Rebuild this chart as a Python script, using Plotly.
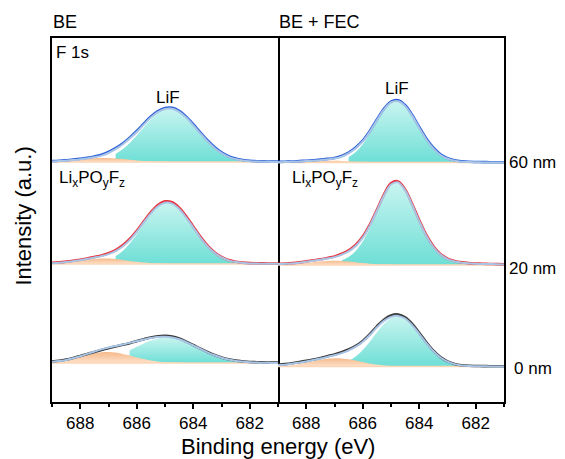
import plotly.graph_objects as go

# ---------------------------------------------------------------- data
# binding energy grid (eV), high to low
energy = [689.0, 688.75, 688.5, 688.25, 688.0, 687.75, 687.5, 687.25, 687.0,
          686.75, 686.5, 686.25, 686.0, 685.75, 685.5, 685.25, 685.0, 684.75,
          684.5, 684.25, 684.0, 683.75, 683.5, 683.25, 683.0, 682.75, 682.5,
          682.25, 682.0, 681.75, 681.5, 681.25, 681.0]

# BE electrolyte, 60 nm
be60_raw = [1.0, 1.3, 1.8, 2.5, 3.3, 4.3, 5.6, 7.3, 10.0, 13.8, 18.5, 24.4, 31.0, 38.4, 45.4, 50.8, 54.0,
            54.2, 51.2, 45.4, 37.8, 29.6, 21.8, 15.0, 9.6, 5.8, 3.4, 2.0, 1.2, 0.8, 0.6, 0.5, 0.4]
be60_fit = [0.6, 0.9, 1.3, 1.9, 2.7, 3.6, 4.8, 6.4, 9.0, 12.8, 17.5, 23.4, 30.0, 37.4, 44.4, 49.8, 53.0,
            53.2, 50.2, 44.4, 36.8, 28.6, 20.8, 14.1, 8.9, 5.2, 2.9, 1.6, 0.8, 0.4, 0.2, 0.1, 0.0]
be60_lif = [0, 0, 0, 0.1, 0.3, 0.7, 1.4, 2.6, 4.8, 8.1, 12.8, 19.1, 26.6, 34.8, 42.5, 48.8, 52.4,
            52.7, 49.7, 43.9, 36.4, 28.2, 20.5, 14.0, 8.9, 5.3, 3.0, 1.6, 0.8, 0.4, 0.2, 0.1, 0]
be60_lipof = [0.5, 0.9, 1.5, 2.0, 2.7, 3.3, 3.8, 4.0, 3.9, 3.5, 2.9, 2.3, 1.6, 1.1, 0.7, 0.4, 0.2,
              0.1, 0, 0, 0, 0, 0, 0, 0, 0, 0, 0, 0, 0, 0, 0, 0]

# BE electrolyte, 20 nm
be20_raw = [1.3, 1.7, 2.4, 3.3, 4.3, 5.5, 7.0, 8.6, 10.8, 13.9, 18.6, 25.0, 33.2, 42.6, 51.8, 59.0, 62.6,
            61.8, 56.4, 47.8, 37.6, 27.4, 18.6, 11.7, 7.0, 3.9, 2.2, 1.4, 0.9, 0.7, 0.6, 0.5, 0.5]
be20_fit = [0.8, 1.2, 1.9, 2.8, 3.8, 5.0, 6.4, 7.9, 9.9, 12.9, 17.5, 23.9, 32.2, 41.6, 50.7, 57.8, 61.3,
            60.3, 55.0, 46.5, 36.5, 26.5, 17.9, 11.2, 6.6, 3.6, 1.9, 1.1, 0.6, 0.4, 0.3, 0.3, 0.3]
be20_lif = [0, 0, 0, 0.1, 0.2, 0.4, 1.0, 2.1, 4.2, 7.7, 13.1, 20.5, 29.7, 39.9, 49.6, 57.0, 60.8,
            59.9, 54.7, 46.2, 36.2, 26.2, 17.6, 10.9, 6.3, 3.3, 1.6, 0.8, 0.3, 0.1, 0, 0, 0]
be20_lipof = [0.5, 0.9, 1.6, 2.4, 3.3, 4.3, 5.1, 5.5, 5.4, 4.9, 4.1, 3.1, 2.2, 1.4, 0.8, 0.5, 0.2,
              0.1, 0, 0, 0, 0, 0, 0, 0, 0, 0, 0, 0, 0, 0, 0, 0]

# BE electrolyte, surface (0 nm)
be0_raw = [1.5, 2.3, 3.5, 5.1, 7.0, 9.0, 11.1, 13.0, 14.8, 16.5, 18.2, 19.8, 21.8, 23.8, 25.6, 26.8, 27.2,
           26.4, 24.4, 21.4, 18.0, 14.4, 11.0, 8.0, 5.6, 3.8, 2.4, 1.6, 1.0, 0.8, 0.6, 0.5, 0.4]
be0_fit = [1.1, 1.9, 3.1, 4.8, 6.8, 9.1, 11.4, 13.6, 15.5, 17.1, 18.5, 20.1, 21.8, 23.5, 25.0, 26.1, 26.3,
           25.5, 23.7, 20.9, 17.6, 14.1, 10.7, 7.7, 5.3, 3.5, 2.1, 1.3, 0.7, 0.4, 0.2, 0.1, 0.0]
be0_lif = [0, 0.1, 0.1, 0.3, 0.5, 1.0, 1.7, 2.9, 4.5, 6.7, 9.4, 12.7, 16.2, 19.6, 22.5, 24.6, 25.5,
           25.1, 23.5, 20.8, 17.6, 14.1, 10.7, 7.7, 5.3, 3.5, 2.1, 1.3, 0.7, 0.4, 0.2, 0.1, 0]
be0_lipof = [1.1, 1.8, 3.0, 4.5, 6.3, 8.1, 9.7, 10.7, 11.0, 10.4, 9.1, 7.4, 5.6, 3.9, 2.5, 1.5, 0.8,
             0.4, 0.2, 0.1, 0, 0, 0, 0, 0, 0, 0, 0, 0, 0, 0, 0, 0]

# BE + FEC electrolyte, 60 nm
fec60_raw = [0.6, 0.8, 1.0, 1.4, 1.8, 2.3, 2.9, 3.6, 4.6, 6.6, 10.0, 15.0, 22.0, 31.6, 43.0, 53.6, 60.8,
             62.2, 57.4, 47.6, 35.6, 24.0, 14.8, 8.2, 4.3, 2.2, 1.2, 0.7, 0.5, 0.4, 0.3, 0.3, 0.2]
fec60_fit = [0.3, 0.5, 0.7, 1.0, 1.4, 1.8, 2.3, 3.0, 3.9, 5.8, 9.2, 14.2, 21.2, 30.8, 42.2, 52.8, 60.0,
             61.2, 56.4, 46.6, 34.6, 23.0, 13.9, 7.5, 3.7, 1.7, 0.8, 0.4, 0.2, 0.1, 0.1, 0.1, 0.1]
fec60_lif = [0, 0, 0, 0, 0, 0, 0.1, 0.4, 1.0, 2.4, 5.3, 10.4, 18.3, 28.9, 40.9, 52.0, 59.3,
             60.7, 55.8, 46.0, 34.1, 22.6, 13.5, 7.2, 3.5, 1.5, 0.6, 0.2, 0.1, 0, 0, 0, 0]
fec60_lipof = [0.2, 0.3, 0.5, 0.8, 1.1, 1.4, 1.7, 1.8, 1.8, 1.6, 1.3, 1.0, 0.7, 0.5, 0.3, 0.2, 0.1,
               0, 0, 0, 0, 0, 0, 0, 0, 0, 0, 0, 0, 0, 0, 0, 0]

# BE + FEC electrolyte, 20 nm
fec20_raw = [1.2, 1.5, 1.9, 2.6, 3.6, 4.7, 5.8, 7.1, 8.6, 11.2, 14.6, 20.0, 28.4, 40.4, 55.2, 70.4, 81.6,
             83.6, 75.6, 61.0, 44.8, 30.0, 18.8, 11.0, 6.4, 3.9, 2.6, 1.9, 1.5, 1.2, 1.0, 0.9, 0.6]
fec20_fit = [0.9, 1.2, 1.6, 2.3, 3.2, 4.3, 5.3, 6.5, 7.9, 10.3, 13.6, 19.0, 27.4, 39.4, 54.2, 69.4, 80.5,
             82.6, 74.6, 60.0, 43.8, 29.2, 18.0, 10.4, 5.9, 3.5, 2.3, 1.7, 1.3, 1.0, 0.9, 0.8, 0.5]
fec20_lif = [0.3, 0.4, 0.5, 0.6, 0.8, 1.0, 1.3, 1.8, 2.8, 4.6, 8.0, 14.0, 23.6, 36.8, 52.5, 68.1, 79.3,
             81.6, 73.9, 59.6, 43.5, 28.9, 17.8, 10.3, 5.8, 3.4, 2.2, 1.5, 1.1, 0.8, 0.6, 0.5, 0.4]
fec20_lipof = [0.2, 0.4, 0.7, 1.3, 2.0, 2.8, 3.5, 4.1, 4.3, 4.1, 3.5, 2.8, 2.0, 1.3, 0.7, 0.4, 0.2,
               0.1, 0, 0, 0, 0, 0, 0, 0, 0, 0, 0, 0, 0, 0, 0, 0]

# BE + FEC electrolyte, surface (0 nm)
fec0_raw = [1.7, 2.4, 3.3, 4.4, 5.6, 7.0, 8.6, 10.3, 12.0, 14.2, 17.0, 20.6, 25.6, 32.4, 40.2, 46.8, 51.0,
            52.0, 49.2, 42.6, 33.6, 24.2, 15.8, 9.4, 5.1, 2.6, 1.3, 0.7, 0.5, 0.4, 0.3, 0.3, 0.2]
fec0_fit = [1.2, 1.8, 2.7, 3.8, 5.0, 6.4, 7.9, 9.6, 11.3, 13.4, 16.2, 19.8, 24.8, 31.5, 39.2, 45.6, 49.6,
            50.6, 48.0, 41.4, 32.6, 23.4, 15.2, 9.0, 4.8, 2.4, 1.1, 0.5, 0.3, 0.2, 0.1, 0.1, 0.1]
fec0_lif = [0, 0, 0, 0, 0, 0.1, 0.2, 0.5, 1.3, 2.8, 5.5, 10.0, 16.5, 24.8, 34.0, 42.4, 48.2,
            50.0, 47.2, 40.6, 31.8, 22.7, 14.8, 8.8, 4.7, 2.3, 1.0, 0.4, 0.2, 0.1, 0, 0, 0]
fec0_lipof = [0.5, 0.9, 1.6, 2.6, 3.9, 5.3, 6.7, 7.8, 8.3, 8.1, 7.2, 5.9, 4.4, 3.1, 1.9, 1.1, 0.6,
              0.3, 0.1, 0, 0, 0, 0, 0, 0, 0, 0, 0, 0, 0, 0, 0, 0]

depth_labels = ["60 nm", "20 nm", "0 nm"]
panel_titles = ["BE", "BE + FEC"]
# vertical stacking offsets for the depth profiles (60, 20, 0 nm)
offsets_be = [201.0, 99.0, 0.0]
offsets_fec = [200.5, 98.0, -3.5]
# low-energy side from which the LiF component is shaded
lif_start_be = [686.75, 686.75, 686.25]
lif_start_fec = [686.5, 686.75, 686.5]

# ---------------------------------------------------------------- style
FONT = "Liberation Sans, Arial, sans-serif"
DEPTH_COLORS = ["#2b5fd9", "#e8343e", "#3a3a3a"]
FIT_COLOR = "#a9c5e6"
BASE_COLOR = "#fbd6b6"
LIF_SCALE = [[0, "#6edfd6"], [1, "#c8f4f0"]]
LIPOF_SCALE = [[0, "#fde2cb"], [1, "#f6b98a"]]

panels = [
    ("x", "y", offsets_be, lif_start_be,
     [(be60_raw, be60_fit, be60_lif, be60_lipof),
      (be20_raw, be20_fit, be20_lif, be20_lipof),
      (be0_raw, be0_fit, be0_lif, be0_lipof)]),
    ("x2", "y2", offsets_fec, lif_start_fec,
     [(fec60_raw, fec60_fit, fec60_lif, fec60_lipof),
      (fec20_raw, fec20_fit, fec20_lif, fec20_lipof),
      (fec0_raw, fec0_fit, fec0_lif, fec0_lipof)]),
]

fig = go.Figure()


def band(xa, ya, xs, base, top, scale):
    """Shade between a flat baseline and a component curve."""
    common = dict(xaxis=xa, yaxis=ya, mode="lines", hoverinfo="skip", showlegend=False)
    fig.add_trace(go.Scatter(x=xs, y=[base] * len(xs), line=dict(width=0), **common))
    fig.add_trace(go.Scatter(x=xs, y=[base + v for v in top],
                             line=dict(width=0, shape="spline", smoothing=1.0),
                             fill="tonexty",
                             fillgradient=dict(type="vertical", colorscale=scale),
                             **common))


for xa, ya, offsets, starts, spectra in panels:
    for k, (raw, fit, lif, lipof) in enumerate(spectra):
        off = offsets[k]
        keep = [i for i, e in enumerate(energy) if e <= starts[k]]
        band(xa, ya, [energy[i] for i in keep], off, [lif[i] for i in keep], LIF_SCALE)
        band(xa, ya, energy, off, lipof, LIPOF_SCALE)
        common = dict(xaxis=xa, yaxis=ya, mode="lines", hoverinfo="skip", showlegend=False)
        fig.add_trace(go.Scatter(x=[energy[0], energy[-1]], y=[off, off],
                                 line=dict(color=BASE_COLOR, width=1.6), **common))
        fig.add_trace(go.Scatter(x=energy, y=[off + v for v in raw],
                                 line=dict(color=DEPTH_COLORS[k], width=2.6, shape="spline"), **common))
        fig.add_trace(go.Scatter(x=energy, y=[off + v for v in fit],
                                 line=dict(color=FIT_COLOR, width=2.0, shape="spline"), **common))

xaxis_style = dict(
    range=[689, 681], showline=True, mirror=True, linecolor="black", linewidth=2,
    ticks="outside", ticklen=5, tickwidth=1.5, tickcolor="black",
    tickvals=[688, 686, 684, 682], tickfont=dict(size=17, color="black"),
    showgrid=False, zeroline=False,
    minor=dict(ticks="outside", ticklen=3, tickwidth=1.5, tickcolor="black",
               tickvals=[689, 687, 685, 683, 681]),
)
yaxis_style = dict(
    range=[-39, 325], showline=True, linecolor="black", linewidth=2,
    ticks="", showticklabels=False, showgrid=False, zeroline=False,
)

fig.update_layout(
    width=565, height=459,
    margin=dict(l=52, r=61, t=38, b=57),
    paper_bgcolor="white", plot_bgcolor="white",
    showlegend=False,
    font=dict(family=FONT, color="black"),
    xaxis=dict(domain=[0, 0.5], anchor="y", **xaxis_style),
    xaxis2=dict(domain=[0.5, 1], anchor="y2", **xaxis_style),
    # left panel draws both of its side lines; the right panel only its outer one,
    # so the shared divider stays a single line
    yaxis=dict(anchor="x", mirror=True, **yaxis_style),
    yaxis2=dict(anchor="x2", side="right", mirror=False, **yaxis_style),
)

ann = []
ann.append(dict(text=panel_titles[0], xref="paper", yref="paper", x=-0.003, y=1.044,
                xanchor="left", yanchor="middle", showarrow=False, font=dict(size=18)))
ann.append(dict(text=panel_titles[1], xref="paper", yref="paper", x=0.497, y=1.044,
                xanchor="left", yanchor="middle", showarrow=False, font=dict(size=18)))
ann.append(dict(text="F 1s", xref="paper", yref="paper", x=0.004, y=0.9615,
                xanchor="left", yanchor="middle", showarrow=False, font=dict(size=17)))
ann.append(dict(text="LiF", xref="x", yref="y", x=684.9, y=266,
                xanchor="center", yanchor="middle", showarrow=False, font=dict(size=17)))
ann.append(dict(text="LiF", xref="x2", yref="y2", x=684.8, y=275,
                xanchor="center", yanchor="middle", showarrow=False, font=dict(size=17)))
lipof_text = "Li<sub>x</sub>PO<sub>y</sub>F<sub>z</sub>"
for xp in (0.011, 0.5265):
    ann.append(dict(text=lipof_text, xref="paper", yref="paper", x=xp, y=0.6126,
                    xanchor="left", yanchor="middle", showarrow=False, font=dict(size=17)))
for label, xp, yp in zip(depth_labels, (1.0066, 1.0066, 1.0177), (0.6566, 0.368, 0.0934)):
    ann.append(dict(text=label, xref="paper", yref="paper", x=xp, y=yp,
                    xanchor="left", yanchor="middle", showarrow=False, font=dict(size=17)))
ann.append(dict(text="Binding energy (eV)", xref="paper", yref="paper", x=0.5, y=-0.122,
                xanchor="center", yanchor="middle", showarrow=False, font=dict(size=22)))
ann.append(dict(text="Intensity (a.u.)", xref="paper", yref="paper", x=-0.062, y=0.512,
                xanchor="center", yanchor="middle", textangle=-90, showarrow=False,
                font=dict(size=22)))
fig.update_layout(annotations=ann)

fig.write_html("out.html")
